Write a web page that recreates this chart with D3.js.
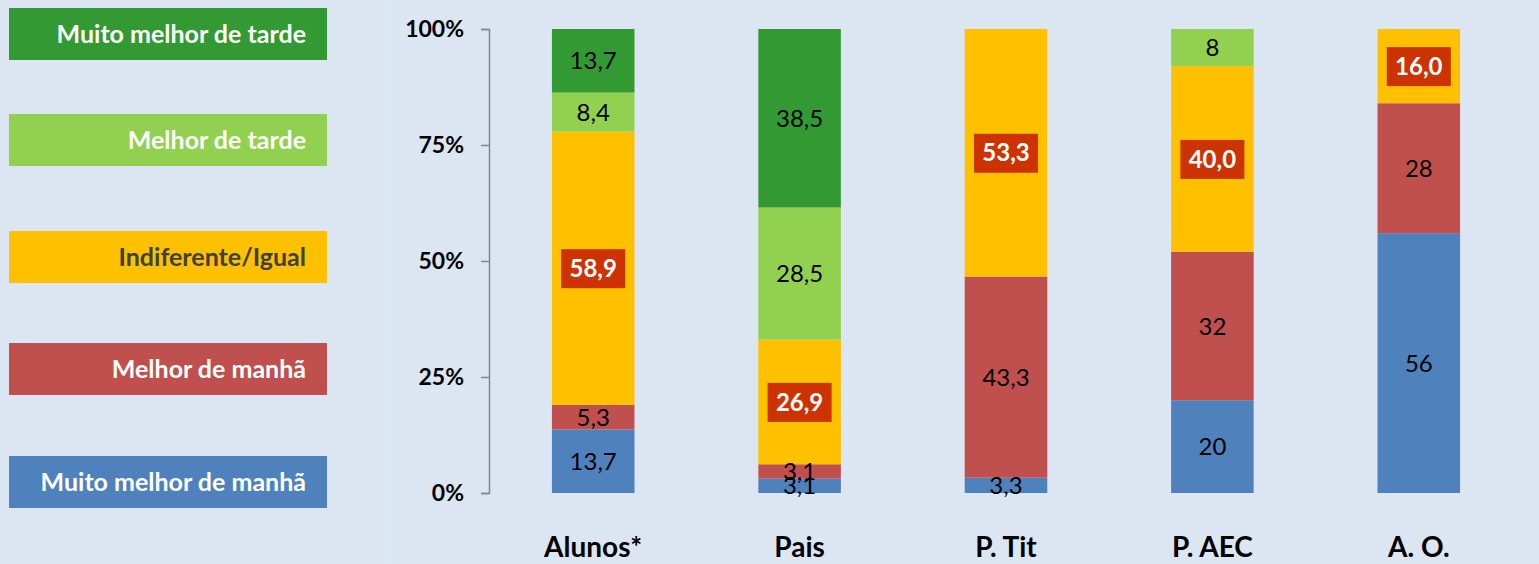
<!doctype html>
<meta charset="utf-8">
<script src="https://cdn.jsdelivr.net/npm/d3@7"></script>
<body>
<style>
body { margin: 0; background-color: #DCE6F2; }
svg { display: block; font-family: Lato, "Open Sans", sans-serif; }
</style>
<script>

// categories, series and values
var categories = ["Alunos*", "Pais", "P. Tit", "P. AEC", "A. O."];
var seriesNames = ["Muito melhor de manhã", "Melhor de manhã", "Indiferente/Igual", "Melhor de tarde", "Muito melhor de tarde"];
var muitoManha = [13.7, 3.1, 3.3, 20, 56];
var manha      = [5.3, 3.1, 43.3, 32, 28];
var indiferente = [58.9, 26.9, 53.3, 40.0, 16.0];
var tarde      = [8.4, 28.5, 0, 8, 0];
var muitoTarde = [13.7, 38.5, 0, 0, 0];
var labelText = [
  ["13,7", "3,1", "3,3", "20", "56"],
  ["5,3", "3,1", "43,3", "32", "28"],
  ["58,9", "26,9", "53,3", "40,0", "16,0"],
  ["8,4", "28,5", "", "8", ""],
  ["13,7", "38,5", "", "", ""]
];
var yTicks = [0, 0.25, 0.5, 0.75, 1];
var colors = ["#4F81BD", "#C0504D", "#FFC000", "#92D050", "#339933"];

var W = 1539, H = 564;
var svg = d3.select("body").append("svg").attr("width", W).attr("height", H);

// faint separator between legend and chart
svg.append("line").attr("x1", 388).attr("x2", 388).attr("y1", 0).attr("y2", H)
    .attr("stroke", "#D6EBF2").attr("stroke-width", 2);

// legend, top to bottom
var legendY = [8, 114, 231, 343, 456];
var legendOrder = [4, 3, 2, 1, 0];
legendOrder.forEach(function(s, i) {
  var g = svg.append("g").attr("transform", "translate(9," + legendY[i] + ")");
  g.append("rect").attr("width", 318).attr("height", 52).attr("fill", colors[s]);
  g.append("text").attr("x", 297).attr("y", 26).attr("dy", "0.36em")
      .attr("text-anchor", "end").attr("font-weight", "bold").attr("font-size", 25)
      .attr("fill", s == 2 ? "#404040" : "#fff")
      .text(seriesNames[s]);
});

// build stacked data
var rows = categories.map(function(c, i) {
  return {cat: c, s0: muitoManha[i], s1: manha[i], s2: indiferente[i], s3: tarde[i], s4: muitoTarde[i]};
});
var stack = d3.stack().keys(["s0", "s1", "s2", "s3", "s4"]).offset(d3.stackOffsetExpand);
var layers = stack(rows);

var x = d3.scaleBand().domain(categories).range([490, 1522]).paddingInner(0.6).paddingOuter(0.3);
var y = d3.scaleLinear().domain([0, 1]).range([493, 29]);

// y axis
var yAxis = svg.append("g").attr("transform", "translate(489,0)")
    .call(d3.axisLeft(y).tickValues(yTicks).tickFormat(d3.format(".0%")).tickSize(8));
yAxis.select(".domain").attr("stroke", "#868686").attr("stroke-width", 1.5);
yAxis.selectAll(".tick line").attr("stroke", "#868686").attr("stroke-width", 1.5);
yAxis.selectAll(".tick text").attr("x", -25).attr("font-size", 23).attr("font-weight", "bold")
    .attr("fill", "#000").attr("font-family", "Lato, sans-serif");

// bars
var g = svg.append("g");
layers.forEach(function(layer, li) {
  g.selectAll(".bar" + li).data(layer).enter().append("rect")
      .attr("x", function(d) { return x(d.data.cat); })
      .attr("width", x.bandwidth())
      .attr("y", function(d) { return y(d[1]); })
      .attr("height", function(d) { return y(d[0]) - y(d[1]); })
      .attr("fill", colors[li]);
});

// value labels
layers.forEach(function(layer, li) {
  layer.forEach(function(d, ci) {
    var t = labelText[li][ci];
    if (!t) return;
    var cx = x(d.data.cat) + x.bandwidth() / 2;
    var cy = (y(d[0]) + y(d[1])) / 2;
    if (li == 2) {
      svg.append("rect").attr("x", cx - 32).attr("y", cy - 19).attr("width", 64).attr("height", 39)
          .attr("fill", "#CC3300");
      svg.append("text").attr("x", cx).attr("y", cy).attr("dy", "0.36em")
          .attr("text-anchor", "middle").attr("font-size", 24).attr("font-weight", "bold")
          .attr("fill", "#fff").text(t);
    } else {
      svg.append("text").attr("x", cx).attr("y", cy).attr("dy", "0.36em")
          .attr("text-anchor", "middle").attr("font-size", 24)
          .attr("fill", "#000").text(t);
    }
  });
});

// category labels
svg.append("g").selectAll("text").data(categories).enter().append("text")
    .attr("x", function(d) { return x(d) + x.bandwidth() / 2; })
    .attr("y", 557)
    .attr("text-anchor", "middle").attr("font-size", 28).attr("font-weight", "bold")
    .text(function(d) { return d; });

</script>
</body>
